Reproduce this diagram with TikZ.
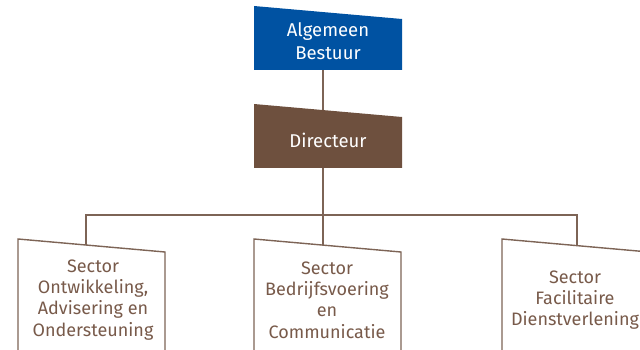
\documentclass[tikz,border=0pt]{standalone}
\usepackage{fontspec}
\setmainfont{Fira Sans}
\definecolor{topblue}{RGB}{0,82,162}
\definecolor{dirbrown}{RGB}{110,80,62}
\definecolor{linebrown}{RGB}{125,100,86}
\definecolor{txtbrown}{RGB}{120,90,74}
\begin{document}
\begin{tikzpicture}[x=1pt,y=-1pt,
  conn/.style={draw=linebrown,line width=1.4pt},
  secbox/.style={draw=linebrown,line width=1.4pt,fill=white},
  sectxt/.style={text=txtbrown,align=center,font=\fontsize{18}{21.2}\selectfont,inner sep=0pt},
  toptxt/.style={text=white,align=center,font=\fontsize{18.5}{23.5}\selectfont,inner sep=0pt}]
\useasboundingbox (0,0) rectangle (640,350);
% coordinates
\coordinate (abbot) at (323,70);
\coordinate (dirtop) at (323,110.5);
\coordinate (dirbot) at (323,168);
\coordinate (busmid) at (323,215);
\coordinate (busL) at (86,215);
\coordinate (busR) at (577,215);
\coordinate (s1top) at (86,246);
\coordinate (s2top) at (323,245.5);
\coordinate (s3top) at (577,246.5);
% connectors
\draw[conn] (abbot) -- (dirtop);
\draw[conn] (dirbot) -- (busmid);
\draw[conn] (s1top) -- (busL) -- (busR) -- (s3top);
\draw[conn] (busmid) -- (s2top);
% top boxes
\fill[topblue] (254,6) -- (402,19) -- (402,70) -- (254,70) -- cycle;
\fill[dirbrown] (254,104) -- (402,117) -- (402,168) -- (254,168) -- cycle;
\node[toptxt] (ab) at (328,41) {Algemeen\\Bestuur};
\node[toptxt] (dir) at (328,140) {Directeur};
% sector boxes
\draw[secbox] (18,360) -- (18,239) -- (165,252) -- (165,360);
\draw[secbox] (254,360) -- (254,239) -- (401,252) -- (401,360);
\draw[secbox] (502,360) -- (502,239) -- (649,252) -- (649,360);
\node[sectxt] (s1) at (93,300) {Sector\\Ontwikkeling,\\Advisering en\\Ondersteuning};
\node[sectxt] (s2) at (327,300) {Sector\\Bedrijfsvoering\\en\\Communicatie};
\node[sectxt] (s3) at (575,300) {Sector\\Facilitaire\\Dienstverlening};
\end{tikzpicture}
\end{document}
